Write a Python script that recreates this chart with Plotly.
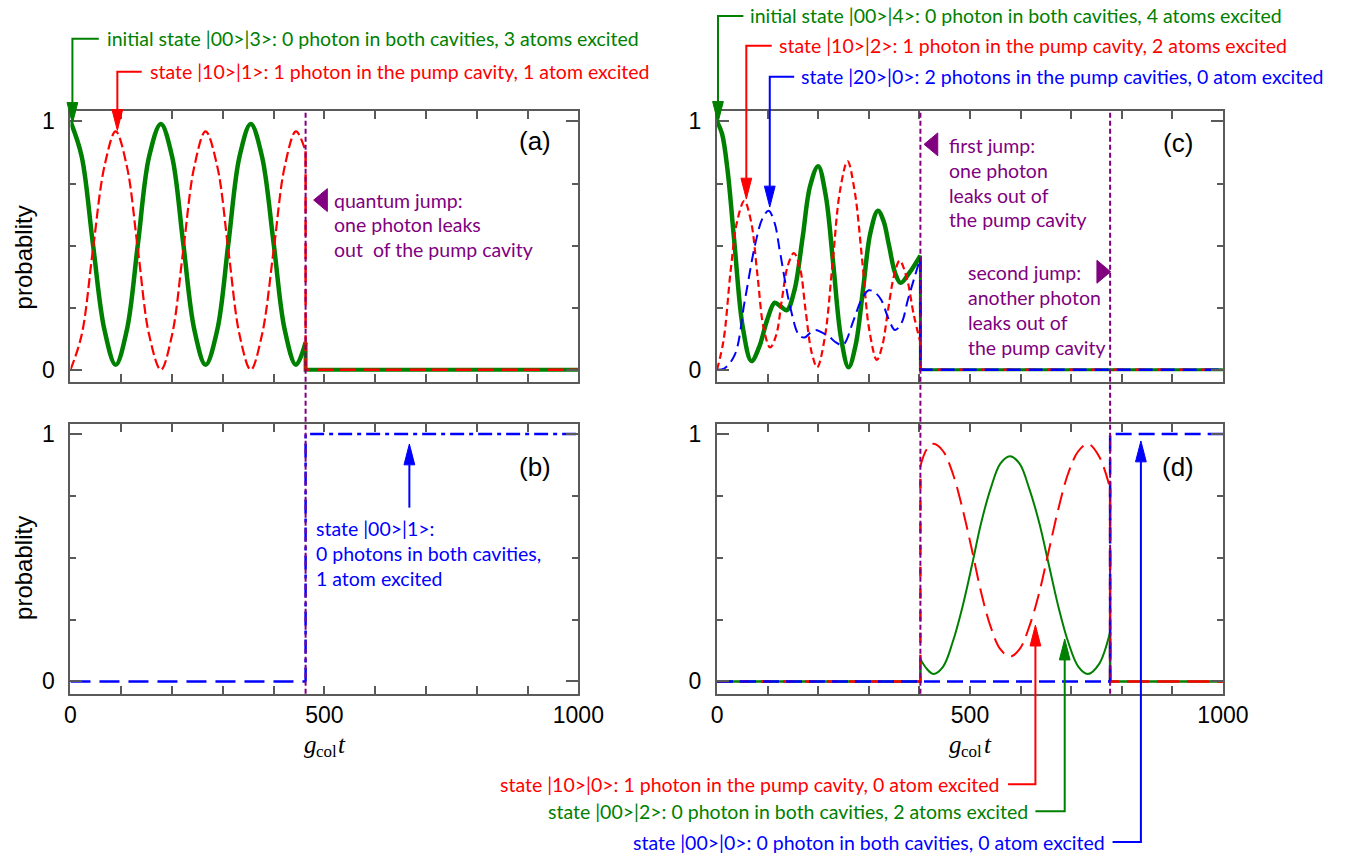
import plotly.graph_objects as go

W, H = 1372, 859

# ---------------- data ----------------
T_END = 1000

# (a) three atoms: oscillation until the quantum jump
T_JUMP_A = 463
t_a = [0, 22, 44, 67, 89, 111, 133, 155, 178, 200, 222, 244, 266, 289, 311,
       333, 355, 377, 400, 422, 444, 463]
green_a = [1.00, 0.86, 0.51, 0.16, 0.02, 0.16, 0.51, 0.86, 0.99, 0.86, 0.51,
           0.16, 0.02, 0.16, 0.51, 0.86, 0.99, 0.86, 0.51, 0.16, 0.02, 0.11]
red_a = [0.00, 0.14, 0.48, 0.82, 0.96, 0.82, 0.48, 0.14, 0.00, 0.14, 0.48,
         0.82, 0.96, 0.82, 0.48, 0.14, 0.00, 0.14, 0.48, 0.82, 0.96, 0.88]
flat_after_a = [0.0, 0.0]

# (b) state |00>|1> before / after the jump
blue_b_before = [0.0, 0.0]
blue_b_after = [0.0, 1.0, 1.0]

# (c) four atoms, until the first jump
T_JUMP1 = 402
T_JUMP2 = 777
t_c_green = [0, 10, 21, 34, 51, 68, 83, 99, 114, 126, 138, 153, 169, 184, 200,
             215, 230, 245, 260, 274, 289, 303, 318, 329, 340, 352, 363, 380, 402]
green_c = [1.00, 0.95, 0.80, 0.52, 0.17, 0.035, 0.09, 0.20, 0.27, 0.255, 0.24,
           0.32, 0.53, 0.74, 0.82, 0.70, 0.42, 0.13, 0.01, 0.10, 0.33, 0.55,
           0.64, 0.60, 0.50, 0.39, 0.35, 0.39, 0.46]
t_c_red = [0, 13, 27, 40, 54, 67, 80, 92, 105, 117, 128, 140, 152, 164, 175,
           187, 198, 213, 228, 243, 258, 272, 287, 301, 316, 327, 338, 350, 361,
           375, 389, 402]
red_c = [0.00, 0.12, 0.40, 0.60, 0.68, 0.60, 0.38, 0.17, 0.09, 0.14, 0.28, 0.42,
         0.47, 0.41, 0.24, 0.07, 0.01, 0.13, 0.42, 0.72, 0.84, 0.72, 0.44, 0.16,
         0.04, 0.10, 0.24, 0.38, 0.44, 0.37, 0.22, 0.11]
t_c_blue = [0, 14, 35, 55, 76, 90, 102, 114, 124, 145, 162, 173, 185, 195, 208,
            221, 235, 249, 270, 285, 300, 313, 325, 340, 352, 365, 377, 390, 402]
blue_c = [0.00, 0.005, 0.06, 0.28, 0.51, 0.61, 0.64, 0.59, 0.48, 0.25, 0.14,
          0.13, 0.15, 0.16, 0.15, 0.135, 0.11, 0.10, 0.20, 0.28, 0.32, 0.31,
          0.28, 0.20, 0.16, 0.19, 0.28, 0.37, 0.45]
flat_c = [0.0, 0.0]

# (d) two atoms between the jumps, ground state afterwards
t_d = [402, 415, 428, 447, 466, 485, 504, 522, 541, 560, 579, 598, 617, 637,
       656, 675, 694, 714, 733, 755, 777]
green_d = [0.09, 0.05, 0.03, 0.06, 0.16, 0.30, 0.47, 0.64, 0.78, 0.88, 0.91,
           0.88, 0.78, 0.64, 0.47, 0.30, 0.16, 0.06, 0.03, 0.07, 0.20]
red_d = [0.87, 0.94, 0.96, 0.93, 0.84, 0.70, 0.53, 0.36, 0.22, 0.13, 0.10,
         0.13, 0.22, 0.36, 0.53, 0.70, 0.84, 0.93, 0.96, 0.91, 0.78]
blue_d_before = [0.0, 0.0]
blue_d_after = [0.0, 1.0, 1.0]
flat_d = [0.0, 0.0]

# ---------------- styling ----------------
GREEN = "#008000"
RED = "#ff0000"
BLUE = "#0000ff"
PURPLE = "#800080"
FRAME = "#5a5a5a"
TXT = "Lato"
TXT_SIZE = 19.5


def X(px):
    return px / W


def Y(py):
    return 1 - py / H


fig = go.Figure()


def line(ax, xs, ys, color, width, dash="solid", spline=False):
    fig.add_trace(go.Scatter(
        x=xs, y=ys, mode="lines", xaxis="x" + ax, yaxis="y" + ax,
        line=dict(color=color, width=width, dash=dash,
                  shape="spline" if spline else "linear", smoothing=1.0),
        hoverinfo="skip", showlegend=False))


# (a)
line("", t_a, green_a, GREEN, 4.5, spline=True)
line("", [T_JUMP_A, T_JUMP_A, T_END], [green_a[-1]] + flat_after_a, GREEN, 4)
line("", t_a, red_a, RED, 2.2, "10px,4px", spline=True)
line("", [T_JUMP_A, T_JUMP_A, T_END], [red_a[-1]] + flat_after_a, RED, 2.5, "16px,7px")

# (b)
line("2", [0, T_JUMP_A], blue_b_before, BLUE, 2.5, "20px,9px")
line("2", [T_JUMP_A, T_JUMP_A, T_END], blue_b_after, BLUE, 2.5, "14px,5px,4px,5px")

# (c)
line("3", t_c_green, green_c, GREEN, 4.5, spline=True)
line("3", [T_JUMP1, T_JUMP1, T_END], [green_c[-1]] + flat_c, GREEN, 3)
line("3", t_c_red, red_c, RED, 2.2, "7px,4px", spline=True)
line("3", [T_JUMP1, T_JUMP1, T_END], [red_c[-1]] + flat_c, RED, 2.5, "10px,12px")
line("3", t_c_blue, blue_c, BLUE, 2, "11px,6px", spline=True)
line("3", [T_JUMP1, T_JUMP1, T_END], [blue_c[-1]] + flat_c, BLUE, 2.5, "14px,8px")

# (d)
line("4", [0, T_JUMP1, T_JUMP1], flat_d + [green_d[0]], GREEN, 2.5)
line("4", t_d, green_d, GREEN, 2, spline=True)
line("4", [T_JUMP2, T_JUMP2, T_END], [green_d[-1]] + flat_d, GREEN, 2.5)
line("4", [0, T_JUMP1, T_JUMP1], flat_d + [red_d[0]], RED, 2.5, "10px,12px")
line("4", t_d, red_d, RED, 2, "18px,8px", spline=True)
line("4", [T_JUMP2, T_JUMP2, T_END], [red_d[-1]] + flat_d, RED, 2.5, "22px,8px")
line("4", [0, T_JUMP2], blue_d_before, BLUE, 2.5, "16px,7px")
line("4", [T_JUMP2, T_JUMP2, T_END], blue_d_after, BLUE, 2.5, "16px,7px")

# ---------------- axes ----------------
Y_RANGE = [-0.05, 1.04]
col_left = [X(66), X(586)]
col_right = [X(728), X(1246)]
row_top = [Y(381), Y(109)]
row_bot = [Y(694), Y(423)]


def xax(domain, anchor, labels):
    return dict(domain=domain, anchor=anchor, range=[0, T_END],
                showline=True, mirror="allticks", linecolor=FRAME, linewidth=2,
                ticks="inside", ticklen=8, tickwidth=1.5, tickcolor=FRAME,
                tickvals=[0, 500, 1000], showticklabels=labels,
                minor=dict(dtick=100, ticks="inside", ticklen=8,
                           tickwidth=1.5, tickcolor=FRAME),
                showgrid=False, zeroline=False,
                tickfont=dict(family="Liberation Sans", size=23, color="black"))


def yax(domain, anchor):
    return dict(domain=domain, anchor=anchor, range=Y_RANGE,
                showline=True, mirror="allticks", linecolor=FRAME, linewidth=2,
                ticks="inside", ticklen=12, tickwidth=1.5, tickcolor=FRAME,
                tickvals=[0, 1], ticktext=["0", "1"], ticklabelstandoff=9,
                minor=dict(dtick=0.25, ticks="inside", ticklen=6,
                           tickwidth=1.5, tickcolor=FRAME),
                showgrid=False, zeroline=False,
                tickfont=dict(family="Liberation Sans", size=23, color="black"))


shapes = []
annotations = []


def vline(xref, t):
    shapes.append(dict(type="line", xref=xref, yref="paper", x0=t, x1=t,
                       y0=Y(694), y1=Y(109),
                       line=dict(color=PURPLE, width=2, dash="5px,3px")))


vline("x", T_JUMP_A)
vline("x3", T_JUMP1)
vline("x3", T_JUMP2)


def path(pts, color, closed=False, width=2):
    d = "M " + " L ".join(f"{X(a):.5f},{Y(b):.5f}" for a, b in pts)
    if closed:
        d += " Z"
        shapes.append(dict(type="path", xref="paper", yref="paper", path=d,
                           fillcolor=color, line=dict(color=color, width=1)))
    else:
        shapes.append(dict(type="path", xref="paper", yref="paper", path=d,
                           line=dict(color=color, width=width)))


def arrow_down(x, x_start, y_text, tip, color, length=21, half=5.5):
    path([(x_start, y_text), (x, y_text), (x, tip - length)], color)
    path([(x - half, tip - length), (x + half, tip - length), (x, tip)], color, True)


def arrow_up(x, x_start, y_text, tip, color, length=21, half=5.5):
    path([(x_start, y_text), (x, y_text), (x, tip + length)], color)
    path([(x - half, tip + length), (x + half, tip + length), (x, tip)], color, True)


def text(x, y, s, color, anchor="left", size=TXT_SIZE, family=TXT, pad=1):
    annotations.append(dict(x=X(x), y=Y(y), xref="paper", yref="paper", text=s,
                            showarrow=False, xanchor=anchor, yanchor="middle",
                            borderpad=pad,
                            font=dict(family=family, size=size, color=color)))


def triangle(tip_x, y, direction, color, w=14, h=23):
    back = tip_x + w if direction == "left" else tip_x - w
    path([(back, y - h / 2), (back, y + h / 2), (tip_x, y)], color, True)


# top-left labels
text(101, 36, "initial state |00&gt;|3&gt;: 0 photon in both cavities, 3 atoms excited", GREEN)
arrow_down(68, 95, 36, 121, GREEN)
text(145, 69, "state |10&gt;|1&gt;: 1 photon in the pump cavity, 1 atom excited", RED)
arrow_down(114, 139, 69, 128, RED)

# top-right labels
text(760, 13, "initial state |00&gt;|4&gt;: 0 photon in both cavities, 4 atoms excited", GREEN)
arrow_down(729, 755, 13, 120, GREEN)
text(789, 43, "state |10&gt;|2&gt;: 1 photon in the pump cavity, 2 atoms excited", RED)
arrow_down(758, 784, 43, 197, RED)
text(812, 74, "state |20&gt;|0&gt;: 2 photons in the pump cavities, 0 atom excited", BLUE)
arrow_down(782, 807, 74, 205, BLUE)

# (a) jump note
triangle(315, 198, "left", PURPLE)
for i, s in enumerate(["quantum jump:", "one photon leaks", "out\u00a0 of the pump cavity"]):
    text(334, 198 + 25 * i, s, PURPLE)

# (b) note
path([(413, 507), (413, 443 + 21)], BLUE)
path([(413 - 5.5, 464), (413 + 5.5, 464), (413, 443)], BLUE, True)
for i, s in enumerate(["state |00&gt;|1&gt;:", "0 photons in both cavities,", "1 atom excited"]):
    text(315, 528 + 25 * i, s, BLUE)

# (c) jump notes
triangle(940, 142, "left", PURPLE)
for i, s in enumerate(["first jump:", "one photon", "leaks out of", "the pump cavity"]):
    text(963, 143 + 25 * i, s, PURPLE)
triangle(1131, 270, "right", PURPLE)
for i, s in enumerate(["second jump:", "another photon", "leaks out of", "the pump cavity"]):
    text(983, 271 + 25 * i, s, PURPLE)

# bottom-right labels
text(1020, 785, "state |10&gt;|0&gt;: 1 photon in the pump cavity, 0 atom excited", RED, "right")
arrow_up(1054, 1026, 785, 625, RED)
text(1048, 812, "state |00&gt;|2&gt;: 0 photon in both cavities, 2 atoms excited", GREEN, "right")
arrow_up(1084, 1054, 812, 639, GREEN)
text(1127, 843, "state |00&gt;|0&gt;: 0 photon in both cavities, 0 atom excited", BLUE, "right")
arrow_up(1162, 1133, 843, 440, BLUE)

# panel tags
for px_, py_, s in [(542, 139, "(a)"), (542, 466, "(b)"), (1200, 141, "(c)"), (1200, 466, "(d)")]:
    text(px_, py_, s, "black", "center", 26, "Liberation Sans")

# axis titles
for py_ in (256, 568):
    annotations.append(dict(x=X(18), y=Y(py_), xref="paper", yref="paper",
                            text="probablity", showarrow=False, textangle=-90,
                            xanchor="center", yanchor="middle",
                            font=dict(family="Liberation Sans", size=24, color="black")))
# g_col t, set as italic g, lowered roman "col", italic t
for cx in (326, 987):
    text(cx - 7, 745, "<i>g</i>", "black", "right", 25, "Liberation Serif", 0)
    text(cx - 10, 752, "col", "black", "left", 17, "Liberation Serif", 0)
    text(cx + 13, 745, "<i>t</i>", "black", "left", 25, "Liberation Serif", 0)

fig.update_layout(
    width=W, height=H, margin=dict(l=0, r=0, t=0, b=0),
    paper_bgcolor="white", plot_bgcolor="white", showlegend=False,
    xaxis=xax(col_left, "y", False), yaxis=yax(row_top, "x"),
    xaxis2=xax(col_left, "y2", True), yaxis2=yax(row_bot, "x2"),
    xaxis3=xax(col_right, "y3", False), yaxis3=yax(row_top, "x3"),
    xaxis4=xax(col_right, "y4", True), yaxis4=yax(row_bot, "x4"),
    shapes=shapes, annotations=annotations,
)

fig.write_html("out.html")
